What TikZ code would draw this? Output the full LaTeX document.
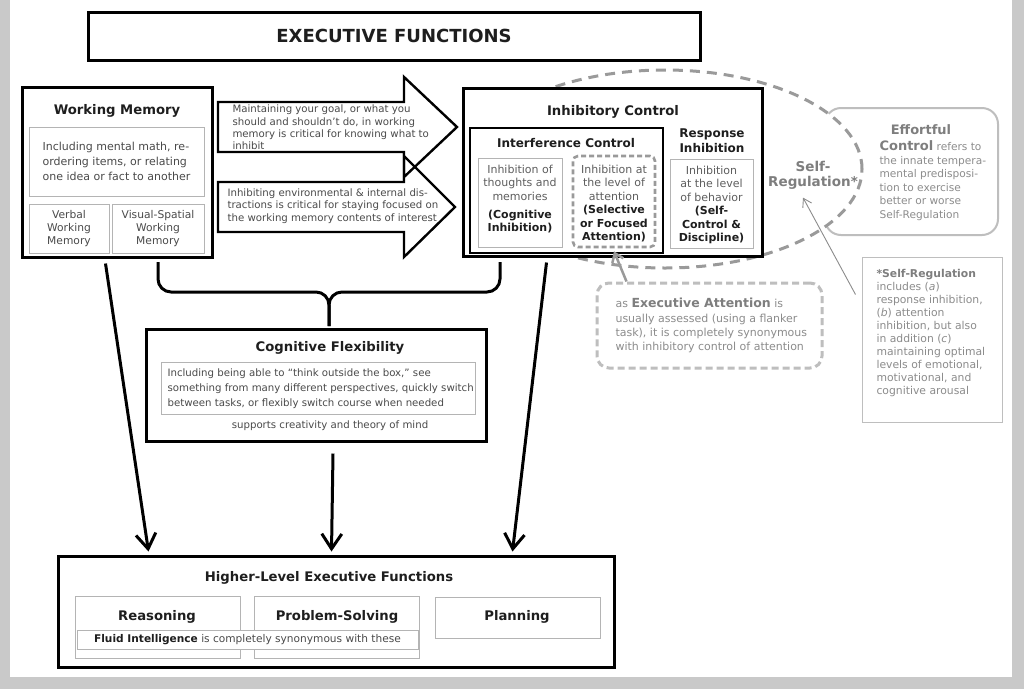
\documentclass[tikz,border=0pt]{standalone}
\usepackage{fontspec}
\setmainfont{DejaVu Sans}
\usetikzlibrary{arrows.meta,fit,shapes.geometric,calc}
\definecolor{bandgray}{HTML}{C9C9C9}
\definecolor{titlecol}{HTML}{1E1E1E}
\definecolor{bodycol}{HTML}{4A4A4A}
\definecolor{innercol}{HTML}{5E5E5E}
\definecolor{boxgray}{HTML}{B4B4B4}
\definecolor{dashgray}{HTML}{9A9A9A}
\definecolor{softtxt}{HTML}{8C8C8C}
\definecolor{softbold}{HTML}{7E7E7E}
\definecolor{notegray}{HTML}{BEBEBE}
\tikzset{
  mainbox/.style={draw=black, line width=3pt, fill=white, inner sep=0pt},
  subbox/.style={draw=black, line width=2.4pt, fill=white, inner sep=0pt},
  thinbox/.style={draw=boxgray, line width=0.9pt, inner sep=0pt},
  hdr/.style={font=\bfseries\fontsize{13.2}{15}\selectfont, text=titlecol},
  smallhdr/.style={font=\bfseries\fontsize{12}{15}\selectfont, text=titlecol, align=center},
  innertxt/.style={font=\fontsize{11}{13.4}\selectfont, text=innercol, align=center},
  hollow/.style={draw=black, line width=2.4pt, line join=miter},
  flow/.style={draw=black, line width=3pt, -{Straight Barb[length=15pt,width=20pt]}},
  brace/.style={draw=black, line width=3pt, rounded corners=13pt},
}
\begin{document}
\begin{tikzpicture}[x=1pt,y=-1pt]
\useasboundingbox (0,0) rectangle (1024,689);
\fill[bandgray] (0,0) rectangle (1024,689);
\fill[white] (10,0) rectangle (1012,677);

% title
\node[mainbox, fit={(88,12) (700,60)}] (title) {};
\node[font=\bfseries\fontsize{18}{20}\selectfont, text=titlecol] (titletext) at (title.center) {EXECUTIVE FUNCTIONS};

% working memory
\node[mainbox, fit={(22,87) (212,257)}] (wm) {};
\node[hdr] (wmt) at (117,111) {Working Memory};
\node[thinbox, fit={(29,127) (204,196)}] (wminc) {};
\node[font=\fontsize{11}{15}\selectfont, text=bodycol, align=left] (wminct) at (wminc.center) {Including mental math, re-\\ordering items, or relating\\one idea or fact to another};
\node[thinbox, fit={(29,204) (109,253)}] (verbal) {};
\node[font=\fontsize{10.7}{13.3}\selectfont, text=bodycol, align=center] (verbalt) at (verbal.center) {Verbal\\Working\\Memory};
\node[thinbox, fit={(112,204) (204,253)}] (visual) {};
\node[font=\fontsize{10.7}{13.3}\selectfont, text=bodycol, align=center] (visualt) at (visual.center) {Visual-Spatial\\Working\\Memory};

% hollow arrows
\draw[hollow] (218,102) -- (404,102) -- (404,77) -- (457,127) -- (404,177) -- (404,152) -- (218,152) -- cycle;
\node[font=\fontsize{10.2}{12.4}\selectfont, text=bodycol, align=left, anchor=west] (arr1t) at (229,127.5) {Maintaining your goal, or what you\\should and shouldn't do, in working\\memory is critical for knowing what to\\inhibit};
\draw[hollow] (218,182) -- (404,182) -- (404,156) -- (455,207) -- (404,257) -- (404,232) -- (218,232) -- cycle;
\node[font=\fontsize{10.2}{12.2}\selectfont, text=bodycol, align=left, anchor=west] (arr2t) at (224,206) {Inhibiting environmental \& internal dis-\\tractions is critical for staying focused on\\the working memory contents of interest};

% effortful control
\node[draw=notegray, line width=2pt, rounded corners=16pt, fit={(825,108) (998,235)}, inner sep=0pt] (eff) {};

% self-regulation ellipse
\node[ellipse, draw=dashgray, line width=3pt, dash pattern=on 10pt off 7pt, fill=white, minimum width=394pt, minimum height=198pt, inner sep=0pt] (sr) at (665,169) {};

\node[font=\bfseries\fontsize{13}{15}\selectfont, text=softbold] (efft) at (921,130) {Effortful};
\node[font=\fontsize{10.6}{13.5}\selectfont, text=softtxt, align=left, anchor=west] (effb) at (876,180.5) {{\bfseries\fontsize{13}{13.5}\selectfont\color{softbold}Control} refers to\\the innate tempera-\\mental predisposi-\\tion to exercise\\better or worse\\Self-Regulation};
\node[font=\bfseries\fontsize{13.5}{15}\selectfont, text=softbold, align=center] (srt) at (813,175) {Self-\\Regulation*};

% inhibitory control
\node[mainbox, fit={(463,88) (762,256)}] (ic) {};
\node[hdr] (ict) at (613,112) {Inhibitory Control};
\node[subbox, fit={(470,128) (663,253)}] (intf) {};
\node[smallhdr] (intft) at (566,143) {Interference Control};
\node[smallhdr] (respt) at (712,140.5) {Response\\Inhibition};
\node[thinbox, fit={(478,158) (562,247)}] (cogbox) {};
\node[innertxt] (cogt) at (520,199) {Inhibition of\\thoughts and\\memories\\[4.5pt]\textcolor{titlecol}{\textbf{(Cognitive}}\\\textcolor{titlecol}{\textbf{Inhibition)}}};
\node[draw=dashgray, line width=2.6pt, dash pattern=on 5pt off 3pt, rounded corners=5pt, fit={(573,156) (655,247)}, inner sep=0pt] (selbox) {};
\node[innertxt] (selt) at (614,203.5) {Inhibition at\\the level of\\attention\\\textcolor{titlecol}{\textbf{(Selective}}\\\textcolor{titlecol}{\textbf{or Focused}}\\\textcolor{titlecol}{\textbf{Attention)}}};
\node[thinbox, fit={(670,159) (753,248)}] (respbox) {};
\node[innertxt] (respbt) at (711.5,205) {Inhibition\\at the level\\of behavior\\\textcolor{titlecol}{\textbf{(Self-}}\\\textcolor{titlecol}{\textbf{Control \&}}\\\textcolor{titlecol}{\textbf{Discipline)}}};

% executive attention
\node[draw=notegray, line width=3pt, dash pattern=on 7pt off 4pt, rounded corners=12pt, fit={(597,283) (822,368)}, inner sep=0pt] (ea) {};
\node[font=\fontsize{11}{14.2}\selectfont, text=softtxt, align=left, anchor=west] (eat) at (612,325.5) {as {\bfseries\fontsize{12.5}{14}\selectfont\color{softbold}Executive Attention} is\\usually assessed (using a flanker\\task), it is completely synonymous\\with inhibitory control of attention};
\draw[draw=dashgray, line width=2.5pt, -{Straight Barb[length=8pt,width=12pt]}] ($(ea.north west)+(31,0)$) -- ($(selbox.south)+(0,3)$);

% self-regulation note
\node[draw=notegray, line width=1pt, fit={(862,257) (1002,422)}, inner sep=0pt] (note) {};
\node[font=\fontsize{10.8}{13}\selectfont, text=softtxt, align=left, anchor=west] (notet) at (873,333.5) {{\bfseries\color{softbold}*Self-Regulation}\\includes (\textit{a})\\response inhibition,\\(\textit{b}) attention\\inhibition, but also\\in addition (\textit{c})\\maintaining optimal\\levels of emotional,\\motivational, and\\cognitive arousal};
\coordinate (noteA) at ($(note.north west)+(-6,38)$);
\draw[draw=softtxt, line width=0.9pt, -{Straight Barb[length=8pt,width=10pt]}] (noteA) -- ($(srt.south)+(-10,5)$);

% cognitive flexibility
\node[mainbox, fit={(146,329) (486,441)}] (cf) {};
\node[hdr] (cft) at (330,348) {Cognitive Flexibility};
\node[thinbox, fit={(161,362) (475,414)}] (cfinc) {};
\node[font=\fontsize{10.2}{15}\selectfont, text=bodycol, align=left, anchor=west] (cfinct) at (164,389) {Including being able to “think outside the box,” see\\something from many different perspectives, quickly switch\\between tasks, or flexibly switch course when needed};
\node[font=\fontsize{10.2}{12}\selectfont, text=bodycol] (cfsup) at (330,426) {supports creativity and theory of mind};

% brace
\coordinate (brL) at (158,262);
\coordinate (brR) at (500,262);
\coordinate (brM) at (329,292);
\coordinate (brTip) at (329,326);
\draw[brace] (brL) -- (brL |- brM) -- (brM) -- (brTip);
\draw[brace] (brR) -- (brR |- brM) -- (brM) -- (brTip);

% higher-level
\node[mainbox, fit={(58,556) (614,667)}] (hl) {};
\node[hdr] (hlt) at (329,578) {Higher-Level Executive Functions};
\node[thinbox, fit={(75,596) (240,658)}] (reas) {};
\node[thinbox, fit={(254,596) (419,658)}] (prob) {};
\node[thinbox, fit={(435,597) (600,638)}] (plan) {};
\node[hdr] (reast) at (157,617) {Reasoning};
\node[hdr] (probt) at (337,617) {Problem-Solving};
\node[hdr] (plant) at (517,617) {Planning};
\node[thinbox, fill=white, fit={(77,630) (418,649)}] (fluid) {};
\node[font=\fontsize{10.6}{12}\selectfont, text=bodycol] (fluidt) at (fluid.center) {\textcolor{titlecol}{\textbf{Fluid Intelligence}} is completely synonymous with these};

% flows
\draw[flow] ($(wm.south west)+(85,5)$) -- ($(hl.north west)+(92,-3)$);
\draw[flow] ($(cf.south)+(17,11)$) -- ($(hl.north west)+(275,-3)$);
\draw[flow] ($(ic.south west)+(85,5)$) -- ($(hl.north west)+(456,-3)$);
\end{tikzpicture}
\end{document}
